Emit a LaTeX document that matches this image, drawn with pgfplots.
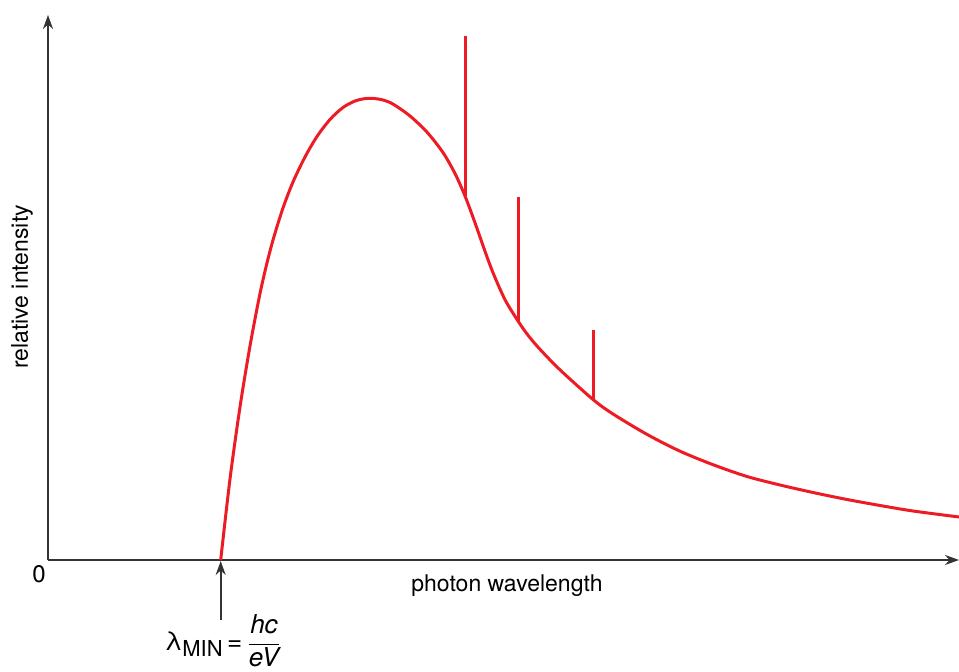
\documentclass[border=0pt]{standalone}
\usepackage{fontspec}
\setmainfont{TeX Gyre Heros}
\usepackage{pgfplots}
\pgfplotsset{compat=1.18}
\usetikzlibrary{arrows.meta}
\definecolor{specred}{HTML}{ED1C24}
\definecolor{axisgray}{HTML}{333333}
\begin{document}
\begin{tikzpicture}
\useasboundingbox (-24pt,-56pt) rectangle (455.5pt,280pt);
\begin{axis}[
  scale only axis,
  width=455.5pt, height=272.5pt,
  xmin=0, xmax=911, ymin=0, ymax=545,
  axis lines=left,
  axis line style={line width=1pt, axisgray, -{Stealth[length=7pt,width=5pt]}},
  xtick=\empty, ytick=\empty,
  clip=false,
]
\addplot[specred, line width=1.5pt, smooth, tension=0.5] coordinates {
(172.7,0) (182,81) (192,153) (202,214) (211.3,263) (218,293) (225.3,321)
(235,352) (245,378) (257,403) (269,423.5) (282,440.5) (295,452.5) (307,459)
(316,461.2) (324,461.7) (335,460) (345,455.9) (362,444) (379,427.85)
(395,407.45) (407,386.45) (417,364) (427,337.2) (437,308.7) (445,287.3)
(457,260.3) (470,239) (480,224.75) (492,210.65) (512,190.15) (545,160.5)
(565,146) (599,125.6) (632,108.8) (665,95.3) (699,83.5) (732,75) (765,67.5)
(799,60.5) (832,54.5) (865,49) (911,43)
};
\addplot[specred, line width=1.5pt] coordinates {(417,364) (417,524)};
\addplot[specred, line width=1.5pt] coordinates {(470,239) (470,363)};
\addplot[specred, line width=1.5pt] coordinates {(545,160.5) (545,230)};
\draw[axisgray, line width=0.8pt, -{Stealth[length=7pt,width=5pt]}] (axis cs:172.7,-60) -- (axis cs:172.7,-1);
\node[font=\fontsize{11.5}{13}\selectfont] at (axis cs:459,-26) {photon wavelength};
\node[font=\fontsize{11.5}{13}\selectfont, rotate=90] at (axis cs:-26,273) {relative intensity};
\node[font=\fontsize{12}{14}\selectfont] at (axis cs:-9,-14) {0};
\node[font=\fontsize{13}{15}\selectfont] at (axis cs:175,-81) {λ\raisebox{-0.5ex}{\fontsize{11}{13}\selectfont MIN}\,=\,$\displaystyle\frac{\mbox{\itshape hc}}{\mbox{\itshape eV}}$};
\end{axis}
\end{tikzpicture}
\end{document}
